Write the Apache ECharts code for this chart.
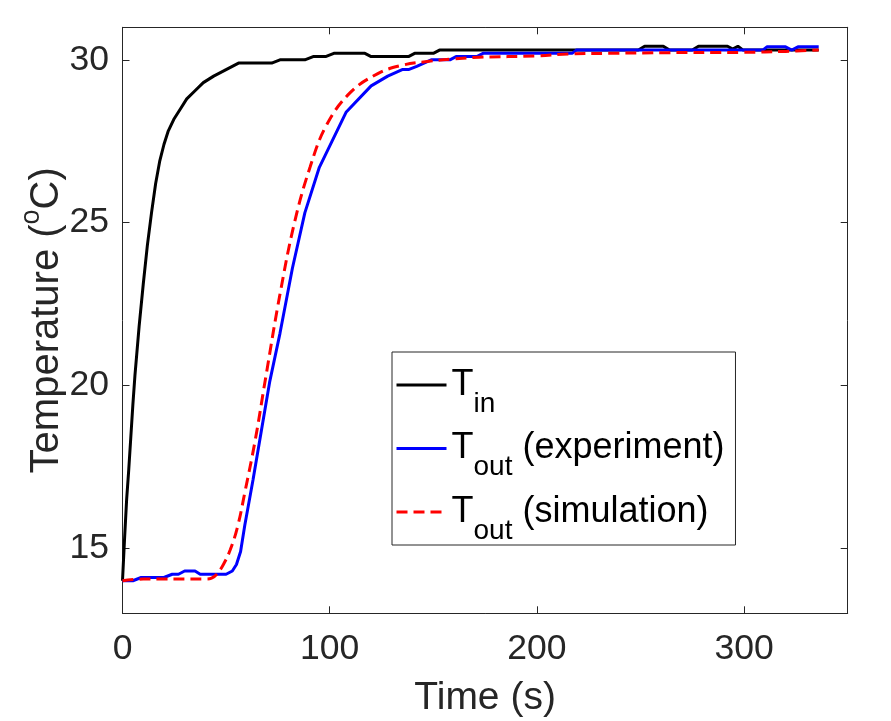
<!DOCTYPE html>
<html>
<head>
<meta charset="utf-8">
<script src="https://cdn.jsdelivr.net/npm/echarts@6.0.0/dist/echarts.min.js"></script>
<style>
  html, body { margin: 0; padding: 0; background: #fff; }
  #main { width: 891px; height: 721px; }
</style>
</head>
<body>
<div id="main"></div>
<script>
// inlet temperature (black)
var inTime = [0, 1, 2, 3, 4, 5, 6, 8, 10, 12, 14, 16, 18, 20, 22, 25, 28, 31, 35, 39, 44, 50, 56, 72, 76, 88, 92, 98, 102, 117, 120, 138, 141, 150, 153, 249, 252, 261, 264, 275, 278, 292, 294.5, 297, 299.5, 336];
var inTemp = [14.0, 15.3, 16.5, 17.4, 18.4, 19.4, 20.3, 21.8, 23.1, 24.3, 25.3, 26.2, 26.9, 27.4, 27.8, 28.2, 28.5, 28.8, 29.05, 29.3, 29.5, 29.7, 29.9, 29.9, 30.0, 30.0, 30.1, 30.1, 30.2, 30.2, 30.1, 30.1, 30.2, 30.2, 30.3, 30.3, 30.42, 30.42, 30.3, 30.3, 30.42, 30.42, 30.33, 30.42, 30.3, 30.3];

// outlet temperature, experiment (blue)
var outExpTime = [0, 5, 9, 20, 24, 27, 30, 35, 37.5, 50, 53, 55, 57, 59, 63, 67, 71, 76, 82, 88, 95, 108, 120, 128, 135, 138, 142, 149, 158, 161, 171, 174, 217, 219, 309, 311, 320, 323, 326, 336];
var outExpTemp = [14.0, 14.0, 14.1, 14.1, 14.2, 14.2, 14.3, 14.3, 14.2, 14.2, 14.3, 14.5, 14.9, 15.7, 17.1, 18.6, 20.1, 21.6, 23.6, 25.3, 26.7, 28.4, 29.2, 29.5, 29.7, 29.7, 29.8, 30.0, 30.0, 30.1, 30.1, 30.2, 30.2, 30.3, 30.3, 30.4, 30.4, 30.3, 30.4, 30.4];

// outlet temperature, simulation (red dashed)
var outSimTime = [0, 10, 20, 30, 40, 43, 45.5, 48.7, 52, 55.5, 59, 64, 69, 76, 83, 90.5, 98.5, 110, 123, 134, 147, 160, 172, 200, 215, 235, 260, 300, 320, 336];
var outSimTemp = [14.0, 14.05, 14.05, 14.05, 14.05, 14.08, 14.2, 14.5, 14.95, 15.65, 16.7, 18.3, 20.2, 22.8, 25.0, 26.7, 28.0, 29.0, 29.57, 29.82, 29.95, 30.03, 30.08, 30.12, 30.18, 30.2, 30.22, 30.23, 30.26, 30.3];

var xTicks = [0, 100, 200, 300];
var yTicks = [15, 20, 25, 30];

var seriesNames = ['Tin', 'ToutExp', 'ToutSim'];
var legendMain = ['T', 'T', 'T'];
var legendSub = ['in', 'out', 'out'];
var legendRest = ['', ' (experiment)', ' (simulation)'];

function pairs(xs, ys) {
  var out = [];
  for (var i = 0; i < xs.length; i++) out.push([xs[i], ys[i]]);
  return out;
}

var font = 'Liberation Sans';
var axisColor = '#262626';

function xAxisCfg(pos) {
  var top = pos === 'top';
  return {
    type: 'value', position: pos, min: 0, max: 350,
    axisLine: { show: true, onZero: false, lineStyle: { color: axisColor, width: 1 } },
    axisTick: { show: true, inside: true, length: 7, customValues: xTicks, lineStyle: { color: axisColor } },
    axisLabel: { show: !top, customValues: xTicks, fontSize: 35.5, lineHeight: 36, color: axisColor, fontFamily: font, margin: 18 },
    splitLine: { show: false },
    name: top ? '' : 'Time (s)',
    nameLocation: 'middle', nameGap: 65, nameMoveOverlap: false,
    nameTextStyle: { fontSize: 39, lineHeight: 40, color: axisColor, fontFamily: font }
  };
}

function yAxisCfg(pos) {
  var right = pos === 'right';
  return {
    type: 'value', position: pos, min: 13, max: 31,
    axisLine: { show: true, onZero: false, lineStyle: { color: axisColor, width: 1 } },
    axisTick: { show: true, inside: true, length: 7, customValues: yTicks, lineStyle: { color: axisColor } },
    axisLabel: { show: !right, customValues: yTicks, fontSize: 35.5, color: axisColor, fontFamily: font, margin: 13.5 },
    splitLine: { show: false },
    name: right ? '' : '{a|Temperature (}{b|o}{a|C)}',
    nameLocation: 'middle', nameGap: 54, nameMoveOverlap: false,
    nameTextStyle: {
      color: axisColor, fontFamily: font,
      rich: {
        a: { fontSize: 40, lineHeight: 44, color: axisColor, fontFamily: font },
        b: { fontSize: 27, lineHeight: 44, color: axisColor, fontFamily: font, padding: [0, 0, 30, 0] }
      }
    }
  };
}

var chart = echarts.init(document.getElementById('main'), null, { renderer: 'canvas' });
chart.setOption({
  animation: false,
  backgroundColor: '#fff',
  grid: { left: 122.5, top: 27.3, right: 43.3, bottom: 107.7, containLabel: false, outerBoundsMode: 'none' },
  xAxis: [xAxisCfg('bottom'), xAxisCfg('top')],
  yAxis: [yAxisCfg('left'), yAxisCfg('right')],
  legend: {
    orient: 'vertical', left: 392, top: 352,
    padding: [0, 11, 0, 3], itemGap: -2.5,
    itemWidth: 50, itemHeight: 14,
    borderColor: axisColor, borderWidth: 1, backgroundColor: '#fff',
    itemStyle: { opacity: 0 },
    lineStyle: { width: 3 },
    data: seriesNames,
    formatter: function (name) {
      var i = seriesNames.indexOf(name);
      var s = '{m|' + legendMain[i] + '}{s|' + legendSub[i] + '}';
      if (legendRest[i]) s += '{m|' + legendRest[i] + '}';
      return s;
    },
    textStyle: {
      color: '#000', fontFamily: font,
      rich: {
        m: { fontSize: 36, lineHeight: 40, color: '#000', fontFamily: font },
        s: { fontSize: 28, lineHeight: 40, color: '#000', fontFamily: font, padding: [38, 0, 0, 0] }
      }
    }
  },
  series: [
    {
      name: seriesNames[0], type: 'line', xAxisIndex: 0, yAxisIndex: 0,
      symbol: 'none', data: pairs(inTime, inTemp),
      lineStyle: { color: '#000000', width: 3 }, itemStyle: { color: '#000000' }
    },
    {
      name: seriesNames[1], type: 'line', xAxisIndex: 0, yAxisIndex: 0,
      symbol: 'none', data: pairs(outExpTime, outExpTemp),
      lineStyle: { color: '#0000ff', width: 3 }, itemStyle: { color: '#0000ff' }
    },
    {
      name: seriesNames[2], type: 'line', xAxisIndex: 0, yAxisIndex: 0,
      symbol: 'none', smooth: 0.4, data: pairs(outSimTime, outSimTemp),
      lineStyle: { color: '#ff0000', width: 3, type: [11, 6] }, itemStyle: { color: '#ff0000' }
    }
  ]
});
</script>
</body>
</html>
